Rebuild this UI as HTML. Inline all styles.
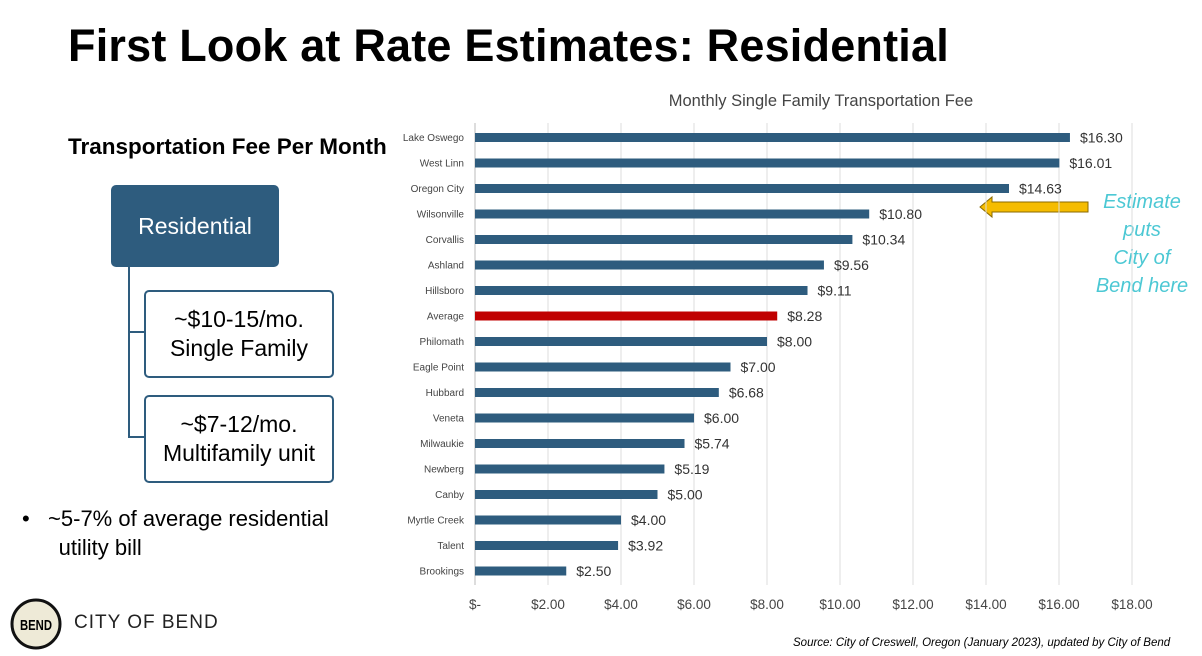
<!DOCTYPE html>
<html><head><meta charset="utf-8"><style>
body{margin:0;width:1202px;height:656px;background:#fff;font-family:"Liberation Sans",sans-serif;position:relative;overflow:hidden}
.a{position:absolute}
</style></head><body>
<div class="a" style="left:68px;top:20px;font-size:45px;letter-spacing:0.2px;font-weight:bold;color:#000">First Look at Rate Estimates: Residential</div>
<div class="a" style="left:68px;top:134px;font-size:22.5px;font-weight:bold">Transportation Fee Per Month</div>
<div class="a" style="left:111px;top:185px;width:168px;height:82px;background:#2E5C7E;border-radius:5px;color:#fff;font-size:23px;display:flex;align-items:center;justify-content:center">Residential</div>
<div class="a" style="left:128px;top:267px;width:16px;height:170px;border-left:2px solid #2E5C7E"></div>
<div class="a" style="left:128px;top:331px;width:16px;border-top:2px solid #2E5C7E"></div>
<div class="a" style="left:128px;top:436px;width:16px;border-top:2px solid #2E5C7E"></div>
<div class="a" style="left:144px;top:290px;width:186px;height:84px;border:2px solid #2E5C7E;border-radius:5px;font-size:23px;text-align:center;display:flex;align-items:center;justify-content:center;line-height:29px">~$10-15/mo.<br>Single Family</div>
<div class="a" style="left:144px;top:395px;width:186px;height:84px;border:2px solid #2E5C7E;border-radius:5px;font-size:23px;text-align:center;display:flex;align-items:center;justify-content:center;line-height:29px">~$7-12/mo.<br>Multifamily unit</div>
<div class="a" style="left:22px;top:504px;font-size:22px;line-height:29px">•&nbsp;&nbsp; ~5-7% of average residential<br>&nbsp;&nbsp;&nbsp;&nbsp;&nbsp;&nbsp;utility bill</div>
<svg class="a" style="left:10px;top:598px" width="52" height="52"><circle cx="26" cy="26" r="24" fill="#EEEAD7" stroke="#111" stroke-width="3"/><text x="26" y="32" text-anchor="middle" font-size="15" font-family="Liberation Sans" font-weight="bold" textLength="32" lengthAdjust="spacingAndGlyphs">BEND</text></svg>
<div class="a" style="left:74px;top:612px;font-size:19px;letter-spacing:1px;color:#222">CITY OF BEND</div>
<div class="a" style="left:793px;top:637px;font-size:11.5px;font-style:italic">Source: City of Creswell, Oregon (January 2023), updated by City of Bend</div>
<div class="a" style="left:1088px;top:188px;width:108px;text-align:center;font-size:20px;font-style:italic;color:#4CC8D4;line-height:28px">Estimate<br>puts<br>City of<br>Bend here</div>
<svg class="a" style="left:978px;top:195px" width="112" height="24"><polygon points="2,12 14,2 14,7 110,7 110,17 14,17 14,22" fill="#F5BC00" stroke="#8a6a00" stroke-width="1"/></svg>
<svg id="chart" class="a" style="left:0;top:0" width="1202" height="656"></svg>
<script>
const cities=["Lake Oswego","West Linn","Oregon City","Wilsonville","Corvallis","Ashland","Hillsboro","Average","Philomath","Eagle Point","Hubbard","Veneta","Milwaukie","Newberg","Canby","Myrtle Creek","Talent","Brookings"];
const fees=[16.30,16.01,14.63,10.80,10.34,9.56,9.11,8.28,8.00,7.00,6.68,6.00,5.74,5.19,5.00,4.00,3.92,2.50];
const ticks=[0,2,4,6,8,10,12,14,16,18];
const tickLabels=["$-","$2.00","$4.00","$6.00","$8.00","$10.00","$12.00","$14.00","$16.00","$18.00"];
const svg=document.getElementById('chart');const ns='http://www.w3.org/2000/svg';
const x=v=>475+v*36.5, y=i=>137.5+i*25.5;
function mk(t,a){const e=document.createElementNS(ns,t);for(const k in a)e.setAttribute(k,a[k]);svg.appendChild(e);return e;}
const tt=mk('text',{x:821,y:106,'text-anchor':'middle','font-size':16.5,fill:'#444','font-family':'Liberation Sans'});tt.textContent='Monthly Single Family Transportation Fee';


ticks.forEach((t,i)=>{
 const g=mk('line',{x1:x(t),x2:x(t),y1:123,y2:585,stroke:i==0?'#bbb':'#ddd','stroke-width':1});
 
 
 const l=mk('text',{x:x(t),y:609,'text-anchor':'middle','font-size':13.5,fill:'#444','font-family':'Liberation Sans'});l.textContent=tickLabels[i];
 
 
});
cities.forEach((c,i)=>{
 const cy=y(i);
 const b=mk('rect',{x:x(0),y:cy-4.5,width:x(fees[i])-x(0),height:9,fill:c=="Average"?'#C00000':'#2E5C7E'});
 
 
 const l=mk('text',{x:464,y:cy+3.5,'text-anchor':'end','font-size':10,fill:'#444','font-family':'Liberation Sans'});l.textContent=c;
 
 
 const v=mk('text',{x:x(fees[i])+10,y:cy+5,'font-size':14,fill:'#333','font-family':'Liberation Sans'});v.textContent='$'+fees[i].toFixed(2);
 
 
});
</script>
</body></html>
